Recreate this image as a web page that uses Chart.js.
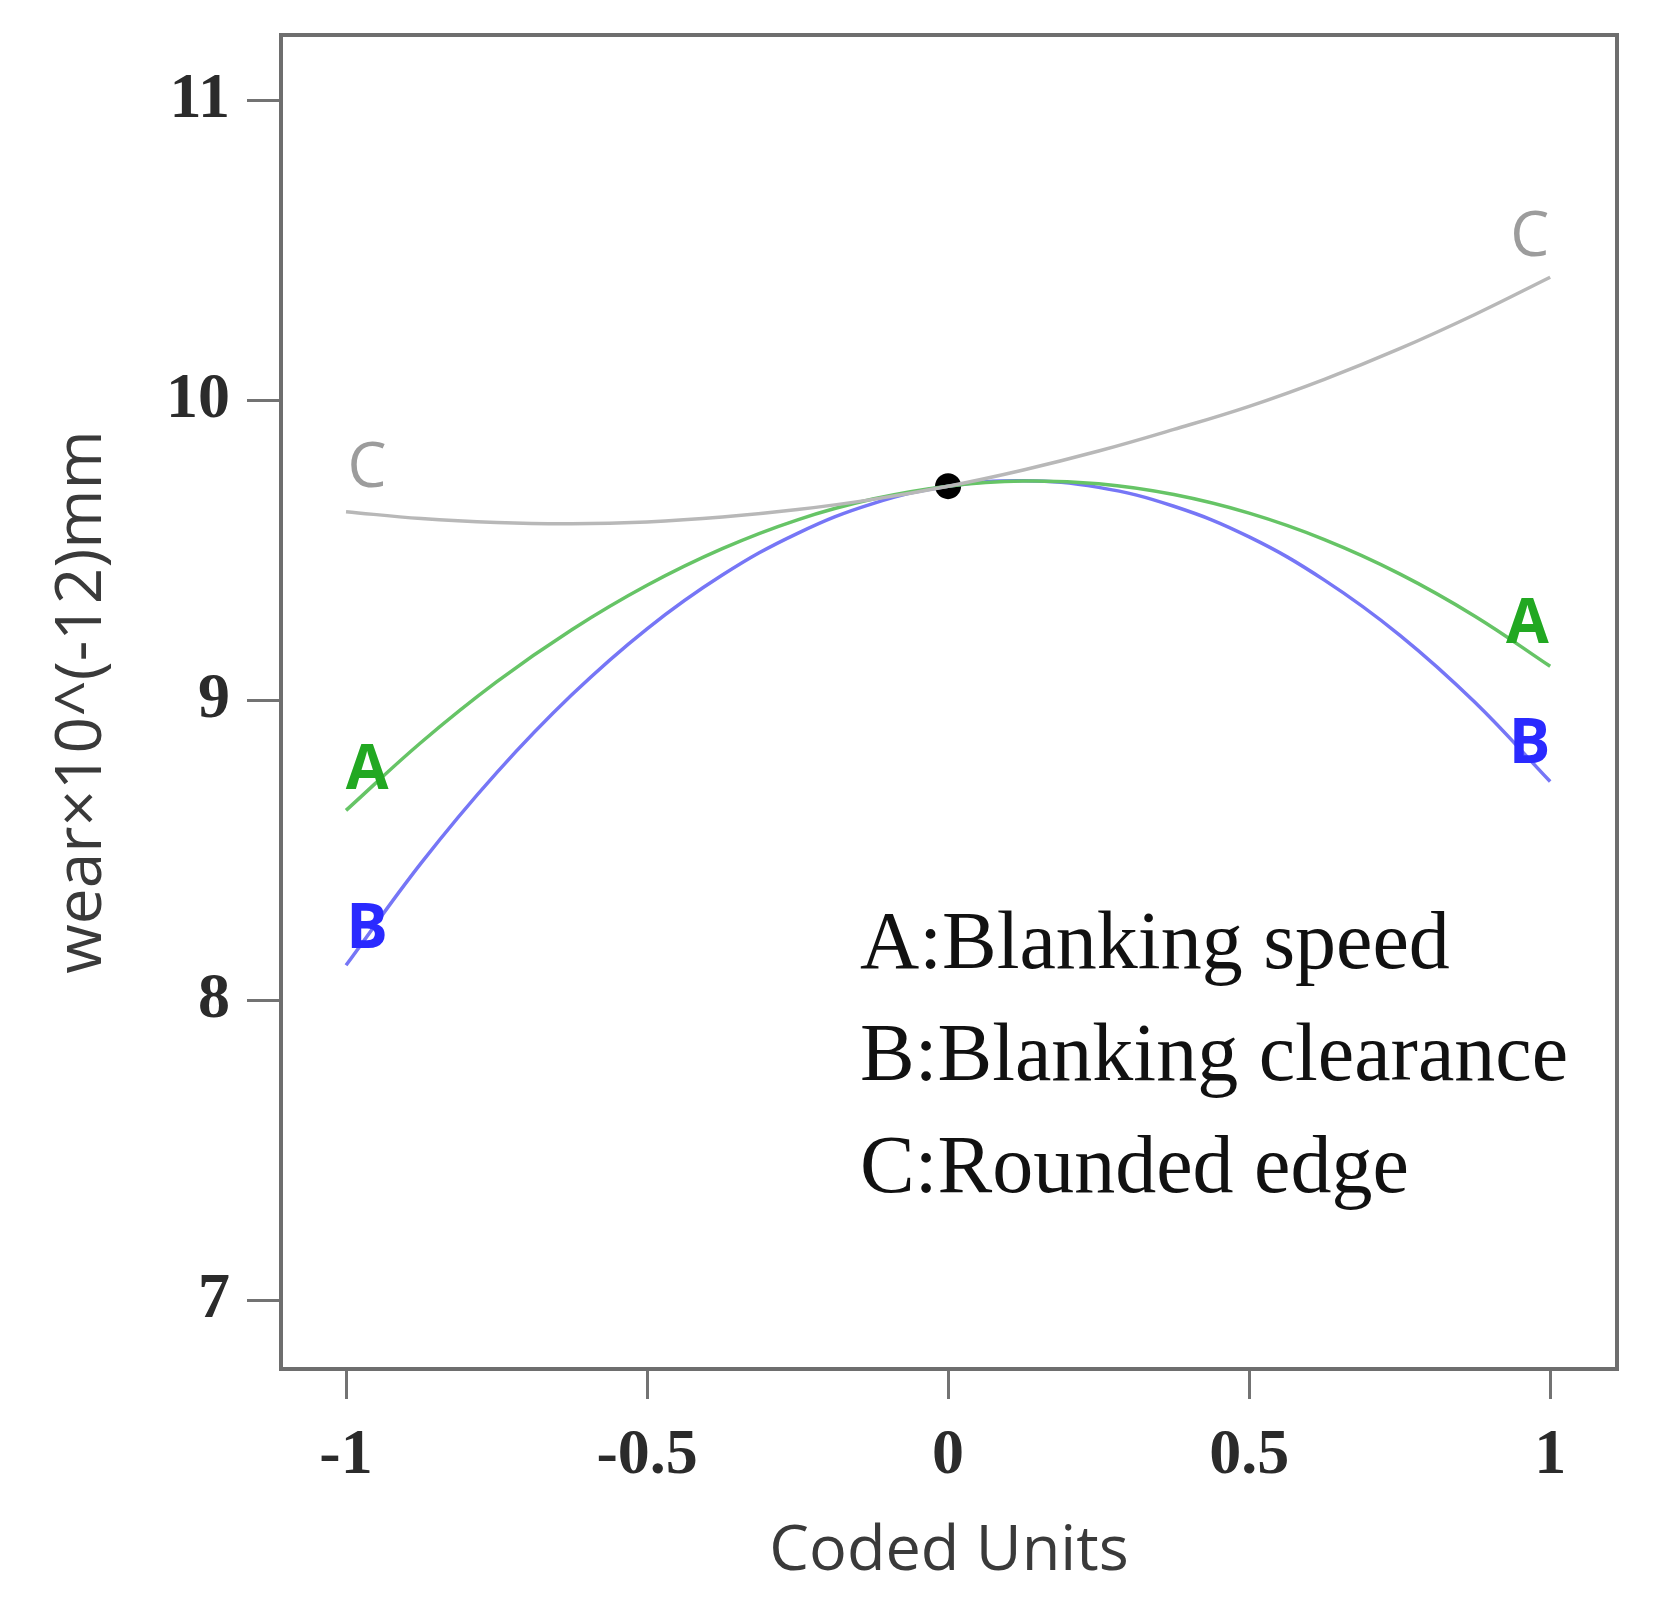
<!DOCTYPE html>
<html>
<head>
<meta charset="utf-8">
<script src="https://cdn.jsdelivr.net/npm/chart.js@4"></script>
<style>
  html, body { margin: 0; padding: 0; background: #fff; }
  canvas { display: block; }
</style>
</head>
<body>
<canvas id="effectChart" width="1654" height="1619"></canvas>
<script>
// coded levels and the wear
const codedUnits = [-1, -0.875, -0.75, -0.625, -0.5, -0.375, -0.25, -0.125, 0,
                    0.125, 0.25, 0.375, 0.5, 0.625, 0.75, 0.875, 1];
const wearA = [8.634, 8.861, 9.062, 9.236, 9.384, 9.506, 9.602, 9.671, 9.714,
               9.731, 9.722, 9.686, 9.624, 9.536, 9.422, 9.281, 9.114];
const wearB = [8.118, 8.459, 8.759, 9.019, 9.239, 9.418, 9.557, 9.656, 9.714,
               9.732, 9.710, 9.647, 9.545, 9.401, 9.218, 8.994, 8.730];
const wearC = [9.629, 9.606, 9.593, 9.589, 9.595, 9.611, 9.636, 9.670, 9.714,
               9.768, 9.831, 9.903, 9.980, 10.070, 10.172, 10.286, 10.410];
const centerPoint = [0, 9.714];

const xTicks = [-1, -0.5, 0, 0.5, 1];
const yTicks = [7, 8, 9, 10, 11];

const factorNames = ['A:Blanking speed', 'B:Blanking clearance', 'C:Rounded edge'];

// curve letters at both ends of each curve (data coordinates)
const curveLetters = [
  { text: 'C', x: -0.965, y: 9.77, color: '#9c9c9c', weight: '400' },
  { text: 'C', x: 0.966, y: 10.54, color: '#9c9c9c', weight: '400' },
  { text: 'A', x: -0.965, y: 8.765, color: '#22a822', weight: '700' },
  { text: 'A', x: 0.962, y: 9.25, color: '#22a822', weight: '700' },
  { text: 'B', x: -0.965, y: 8.235, color: '#2a2aff', weight: '700' },
  { text: 'B', x: 0.966, y: 8.85, color: '#2a2aff', weight: '700' },
];

const toPoints = (ys) => codedUnits.map((x, i) => ({ x: x, y: ys[i] }));

const framePlugin = {
  id: 'frame',
  afterDraw(chart) {
    const { ctx, chartArea: a, scales } = chart;
    ctx.save();
    // plot frame
    ctx.strokeStyle = '#6e6e6e';
    ctx.lineWidth = 4;
    ctx.strokeRect(a.left, a.top, a.right - a.left, a.bottom - a.top);

    // curve letters
    ctx.textAlign = 'center';
    ctx.textBaseline = 'middle';
    curveLetters.forEach((l) => {
      ctx.font = l.weight + ' 62px "Open Sans"';
      ctx.fillStyle = l.color;
      ctx.fillText(l.text, scales.x.getPixelForValue(l.x), scales.y.getPixelForValue(l.y));
    });

    // factor legend
    ctx.font = '82px "Liberation Serif"';
    ctx.fillStyle = '#111';
    ctx.textAlign = 'left';
    ctx.textBaseline = 'alphabetic';
    factorNames.forEach((t, i) => {
      ctx.fillText(t, 860, 968 + i * 112);
    });
    ctx.restore();
  }
};

const tickFont = { family: 'Liberation Serif', size: 64, weight: 'bold' };

new Chart(document.getElementById('effectChart').getContext('2d'), {
  type: 'line',
  data: {
    datasets: [
      { label: 'C', data: toPoints(wearC), borderColor: '#b8b8b8', borderWidth: 3.5, pointRadius: 0, tension: 0.4 },
      { label: 'A', data: toPoints(wearA), borderColor: '#66c466', borderWidth: 3.5, pointRadius: 0, tension: 0.4 },
      { label: 'B', data: toPoints(wearB), borderColor: '#7676f6', borderWidth: 3.5, pointRadius: 0, tension: 0.4 },
      {
        label: 'center',
        data: [{ x: centerPoint[0], y: centerPoint[1] }],
        showLine: false,
        pointRadius: 13,
        pointBackgroundColor: '#000',
        pointBorderWidth: 0,
      },
    ],
  },
  options: {
    responsive: false,
    animation: false,
    devicePixelRatio: 1,
    layout: { padding: { top: 35, right: 37, left: 0, bottom: 0 } },
    plugins: {
      legend: { display: false },
      tooltip: { enabled: false },
    },
    scales: {
      x: {
        type: 'linear',
        min: -1.108,
        max: 1.111,
        afterBuildTicks: (s) => { s.ticks = xTicks.map((v) => ({ value: v })); },
        afterFit: (s) => { s.height = 250; s.paddingLeft = 0; s.paddingRight = 0; },
        border: { display: false },
        grid: { drawOnChartArea: false, tickLength: 30, tickWidth: 3, tickColor: '#737373' },
        ticks: { font: tickFont, color: '#2b2b2b', padding: 19, maxRotation: 0, callback: (v) => String(v) },
        title: {
          display: true,
          text: 'Coded Units',
          font: { family: 'Open Sans', size: 63 },
          color: '#3a3a3a',
          padding: { top: 0, bottom: 29 },
        },
      },
      y: {
        min: 6.773,
        max: 11.217,
        afterBuildTicks: (s) => { s.ticks = yTicks.map((v) => ({ value: v })); },
        afterFit: (s) => { s.width = 281; s.paddingTop = 0; s.paddingBottom = 0; },
        border: { display: false },
        grid: { drawOnChartArea: false, tickLength: 34, tickWidth: 3, tickColor: '#737373' },
        ticks: { font: tickFont, color: '#2b2b2b', padding: 17, callback: (v) => String(v) },
        title: {
          display: true,
          text: 'wear×10^(-12)mm',
          font: { family: 'Open Sans', size: 64 },
          color: '#3a3a3a',
          padding: { top: 44, bottom: 0 },
        },
      },
    },
  },
  plugins: [framePlugin],
});
</script>
</body>
</html>
